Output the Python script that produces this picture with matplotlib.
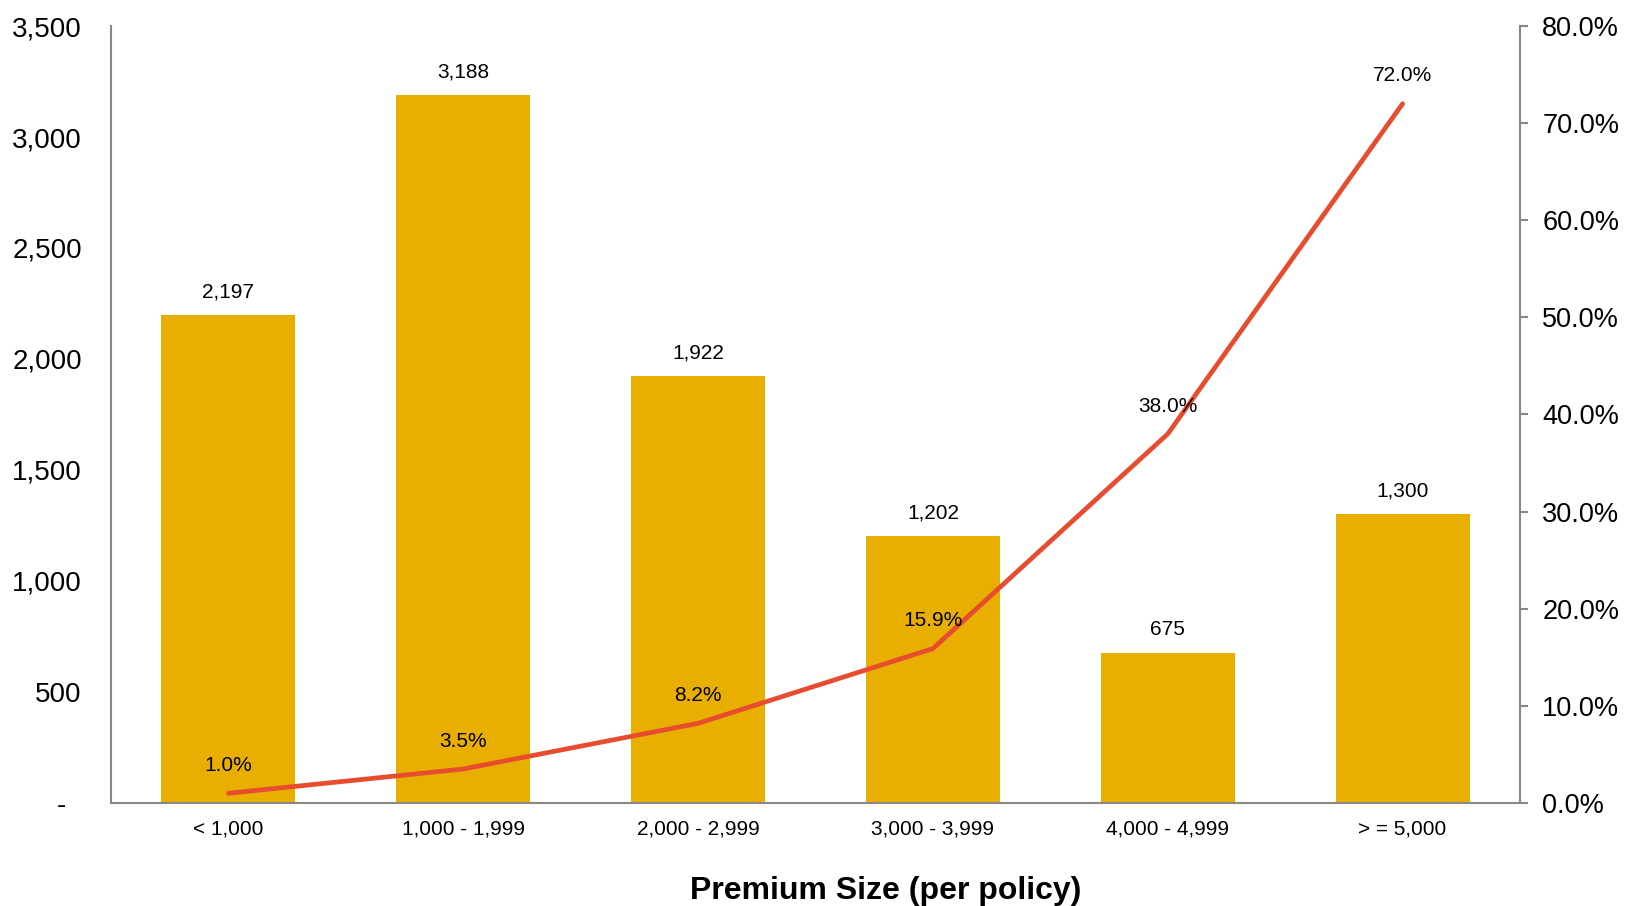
import matplotlib.pyplot as plt
from matplotlib.ticker import FuncFormatter

categories = ["< 1,000", "1,000 - 1,999", "2,000 - 2,999", "3,000 - 3,999", "4,000 - 4,999", "> = 5,000"]
policies = [2197, 3188, 1922, 1202, 675, 1300]
rates = [1.0, 3.5, 8.2, 15.9, 38.0, 72.0]

plt.rcParams["font.family"] = ["Liberation Sans", "DejaVu Sans"]

fig = plt.figure(figsize=(16.25, 9.06), dpi=100)
ax = fig.add_axes([0.0683, 0.1137, 0.8671, 0.8576])
ax2 = ax.twinx()

x = range(len(categories))
ax.bar(x, policies, width=0.57, color="#E9AF00", zorder=2)
for i, v in enumerate(policies):
    ax.annotate(f"{v:,}", (i, v), xytext=(0, 17), textcoords="offset points",
                ha="center", va="center", fontsize=15)

ax2.plot(x, rates, color="#E84C2E", linewidth=3.4, solid_capstyle="round", zorder=3)
for i, v in enumerate(rates):
    ax2.annotate(f"{v:.1f}%", (i, v), xytext=(0, 20), textcoords="offset points",
                 ha="center", va="center", fontsize=15)

ax.set_xlim(-0.5, len(categories) - 0.5)
ax.set_ylim(0, 3500)
ax.set_yticks(range(0, 3501, 500))
ax.yaxis.set_major_formatter(FuncFormatter(lambda v, p: "-  " if v == 0 else f"{v:,.0f}"))
ax2.set_ylim(0, 80)
ax2.set_yticks(range(0, 81, 10))
ax2.yaxis.set_major_formatter(FuncFormatter(lambda v, p: f"{v:.1f}%"))

ax.set_xticks(list(x))
ax.set_xticklabels(categories, fontsize=15)
ax.tick_params(axis="x", length=0, pad=12)
ax.tick_params(axis="y", length=0, labelsize=20, pad=21)
ax2.tick_params(axis="y", length=6, width=1.5, color="#888888", labelsize=19.5, pad=10)

for a in (ax, ax2):
    a.spines["top"].set_visible(False)
    for s in ("left", "right", "bottom"):
        a.spines[s].set_color("#888888")
        a.spines[s].set_linewidth(1.5)
ax.spines["right"].set_visible(False)
ax2.spines["left"].set_visible(False)
ax2.spines["bottom"].set_visible(False)

fig.text(0.545, 0.017, "Premium Size (per policy)", fontsize=23, fontweight="bold",
         ha="center", va="center")

fig.savefig("out.png", dpi=100)
